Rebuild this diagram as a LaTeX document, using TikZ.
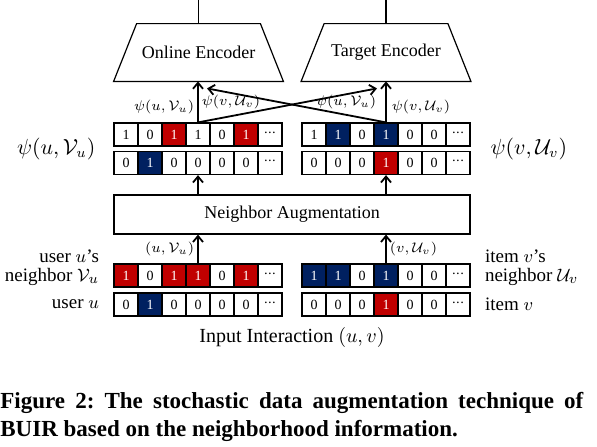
\documentclass[tikz,border=0pt]{standalone}
\usepackage{amsmath,amssymb}
\usepackage{fontspec}
\setmainfont{Liberation Serif}
\usepackage{xcolor}
\usepackage{tikz}
\usetikzlibrary{
  arrows.meta,
  positioning,
  calc,
}

\definecolor{fr}{HTML}{C00000}
\definecolor{fb}{HTML}{002060}
\colorlet{fw}{white}
\colorlet{tr}{white}
\colorlet{tb}{white}
\colorlet{tw}{black}

\begin{document}
\begin{tikzpicture}[
  x=0.5pt, y=-0.5pt,
  font=\fontsize{9}{10.5}\selectfont,
  every node/.style={align=center},
  cell/.style={draw=black, line width=0.6pt, minimum width=12pt,
               minimum height=11.5pt, inner sep=0pt,
               font=\fontsize{7}{7}\selectfont},
  enc/.style={minimum width=84.5pt, minimum height=28.5pt, inner sep=0pt},
  flow/.style={-{Straight Barb[length=3pt,width=5pt]}, line width=0.9pt},
  lbl/.style={font=\fontsize{7}{7}\selectfont, inner sep=1.5pt},
  big/.style={font=\fontsize{10.5}{10.5}\selectfont},
  side/.style={font=\fontsize{9.5}{9.7}\selectfont, inner sep=0pt},
]
\useasboundingbox (0,0) rectangle (597,446);

% binary rows
\foreach \r/\x/\y/\vals in {
  onA/126/134.5/{1/w,0/w,1/r,1/w,0/w,1/r},
  onB/126/163/{0/w,1/b,0/w,0/w,0/w,0/w},
  tgA/314/134.5/{1/w,1/b,0/w,1/b,0/w,0/w},
  tgB/314/163/{0/w,0/w,0/w,1/r,0/w,0/w},
  nbU/126/275.5/{1/r,0/w,1/r,1/r,0/w,1/r},
  usU/126/304.5/{0/w,1/b,0/w,0/w,0/w,0/w},
  nbV/314/275.5/{1/b,1/b,0/w,1/b,0/w,0/w},
  itV/314/304.5/{0/w,0/w,0/w,1/r,0/w,0/w}}{
  \foreach \v/\c [count=\i] in \vals{
    \node[cell, fill=f\c, text=t\c] (\r\i) at (\x+\i*24-24,\y) {\v};
  }
  \node[cell] (\r7) at (\x+144,\y)
    {\textperiodcentered\kern-0.3pt\textperiodcentered
     \kern-0.3pt\textperiodcentered};
}

% encoders
\node[enc] (online) at (198.5,52.5) {Online Encoder};
\node[enc] (target) at (386,52.5) {Target Encoder};
\foreach \e in {online,target}{
  \draw[line width=0.6pt] (\e.south west) -- ([xshift=11.5pt]\e.north west)
    -- ([xshift=-11.5pt]\e.north east) -- (\e.south east) -- cycle;
  \draw[line width=0.9pt] (\e.north) -- ++(0,-24);
}

\node[draw, line width=0.6pt, minimum width=178pt, minimum height=19.5pt]
  (aug) at (292,214.5) {Neighbor Augmentation};

\draw[flow] (nbU4.north) -- (nbU4.north |- aug.south)
  node[midway, left, lbl] {$(u,\mathcal{V}_u)$};
\draw[flow] (nbV4.north) -- (nbV4.north |- aug.south)
  node[midway, right, lbl] {$(v,\mathcal{U}_v)$};
\draw[flow] (aug.north -| onB4) -- (onB4.south);
\draw[flow] (aug.north -| tgB4) -- (tgB4.south);

\draw[flow] (onA4.north) -- (onA4.north |- online.south)
  node[pos=0.37, left, lbl] {$\psi(u,\mathcal{V}_u)$}
  node[pos=0.49, right, lbl] {$\psi(v,\mathcal{U}_v)$};
\draw[flow] (tgA4.north) -- (tgA4.north |- target.south)
  node[pos=0.49, left, lbl, xshift=-3pt] {$\psi(u,\mathcal{V}_u)$}
  node[pos=0.37, right, lbl, xshift=1pt] {$\psi(v,\mathcal{U}_v)$};

\coordinate (onIn) at ($(online.south)+(8.5,7)$);
\coordinate (tgIn) at ($(target.south)+(-9,7)$);
\draw[flow] (onA4.north) -- (tgIn);
\draw[flow] (tgA4.north) -- (onIn);

\node[big, left=5.5pt] at ($(onA1.south west)!0.5!(onB1.north west)$)
  {$\psi(u,\mathcal{V}_u)$};
\node[big, right=6.5pt] at ($(tgA7.south east)!0.5!(tgB7.north east)$)
  {$\psi(v,\mathcal{U}_v)$};

\node[side, align=right, anchor=east] (nbUlbl)
  at ([xshift=-7pt,yshift=4pt]nbU1.west) {user $u$'s\\neighbor $\mathcal{V}_u$};
\node[side, anchor=east] (usUlbl) at ([xshift=-7pt]usU1.west) {user $u$};
\node[side, align=left, anchor=west] (nbVlbl)
  at ([xshift=7pt,yshift=4pt]nbV7.east) {item $v$'s\\neighbor $\mathcal{U}_v$};
\node[side, anchor=west] (itVlbl) at ([xshift=7pt]itV7.east) {item $v$};

\node[font=\fontsize{10}{10}\selectfont] (input) at (292,337)
  {Input Interaction $(u,v)$};

\node[anchor=north west, text width=291.5pt, align=justify, inner sep=0pt,
      font=\fontsize{11.5}{14}\selectfont\bfseries\frenchspacing] (caption)
  at (0,392)
  {Figure 2: The stochastic data augmentation technique of
   BUIR based on the neighborhood information.};

\end{tikzpicture}
\end{document}
